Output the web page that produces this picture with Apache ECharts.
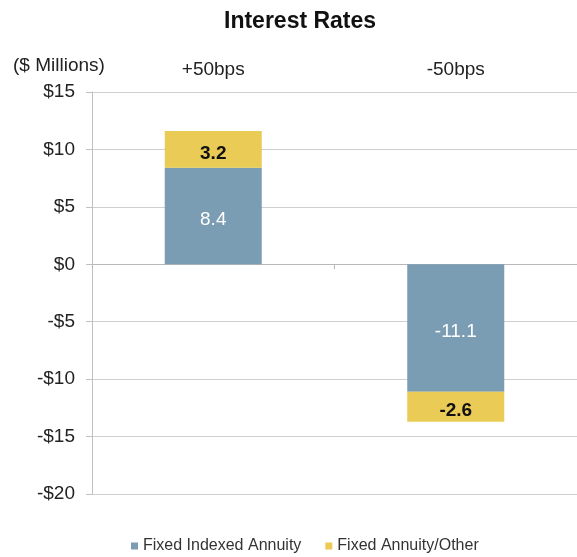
<!DOCTYPE html>
<html>
<head>
<meta charset="utf-8">
<style>
  html, body { margin: 0; padding: 0; background: #fff; }
  #chart { width: 577px; height: 557px; }
</style>
<script src="https://cdn.jsdelivr.net/npm/echarts@6/dist/echarts.min.js"></script>
</head>
<body>
<div id="chart"></div>
<script>
const categories = ["+50bps", "-50bps"];
const fixedIndexed = [8.4, -11.1];
const fixedOther = [3.2, -2.6];
const seriesNames = ["Fixed Indexed Annuity", "Fixed Annuity/Other"];

const chart = echarts.init(document.getElementById("chart"));
const font = "Liberation Sans, Arial, sans-serif";

const money = (v) => (v < 0 ? "-$" + Math.abs(v) : "$" + v);

chart.setOption({
  animation: false,
  title: [
    {
      text: "Interest Rates",
      left: 219,
      top: 5,
      textStyle: { fontFamily: font, fontSize: 23, fontWeight: "bold", color: "#111" },
    },
    {
      text: "($ Millions)",
      left: 8,
      top: 51,
      textStyle: { fontFamily: font, fontSize: 19, fontWeight: "normal", color: "#222" },
    },
  ],
  legend: {
    bottom: -2,
    left: 126,
    icon: "rect",
    itemWidth: 7,
    itemHeight: 7,
    itemGap: 24,
    textStyle: { fontFamily: font, fontSize: 16, color: "#333" },
    data: seriesNames,
  },
  grid: {
    top: 92,
    left: 92,
    right: -3,
    bottom: 63,
  },
  xAxis: [
    {
      type: "category",
      data: categories,
      axisLine: { onZero: true, lineStyle: { color: "#b8b8b8" } },
      axisTick: { show: true, length: 5, lineStyle: { color: "#b8b8b8" } },
      axisLabel: { show: false },
    },
    {
      type: "category",
      data: categories,
      position: "top",
      axisLine: { show: false },
      axisTick: { show: false },
      axisLabel: { margin: 13, fontFamily: font, fontSize: 19, color: "#222" },
    },
  ],
  yAxis: {
    type: "value",
    min: -20,
    max: 15,
    interval: 5,
    axisLine: { show: true, lineStyle: { color: "#c0c0c0" } },
    axisTick: { show: true, length: 6, lineStyle: { color: "#c0c0c0" } },
    axisLabel: {
      margin: 17,
      formatter: money,
      fontFamily: font,
      fontSize: 19,
      color: "#222",
    },
    splitLine: { lineStyle: { color: "#cfcfcf" } },
  },
  series: [
    {
      name: seriesNames[0],
      type: "bar",
      stack: "total",
      barWidth: "40%",
      data: fixedIndexed,
      itemStyle: { color: "#7a9db3" },
      label: {
        show: true,
        position: "inside",
        offset: [0, 4],
        fontFamily: font,
        fontSize: 19,
        color: "#fff",
      },
    },
    {
      name: seriesNames[1],
      type: "bar",
      stack: "total",
      barWidth: "40%",
      data: fixedOther,
      itemStyle: { color: "#e9cb55" },
      label: {
        show: true,
        position: "inside",
        offset: [0, 4],
        fontFamily: font,
        fontSize: 19,
        fontWeight: "bold",
        color: "#111",
      },
    },
  ],
});
</script>
</body>
</html>
